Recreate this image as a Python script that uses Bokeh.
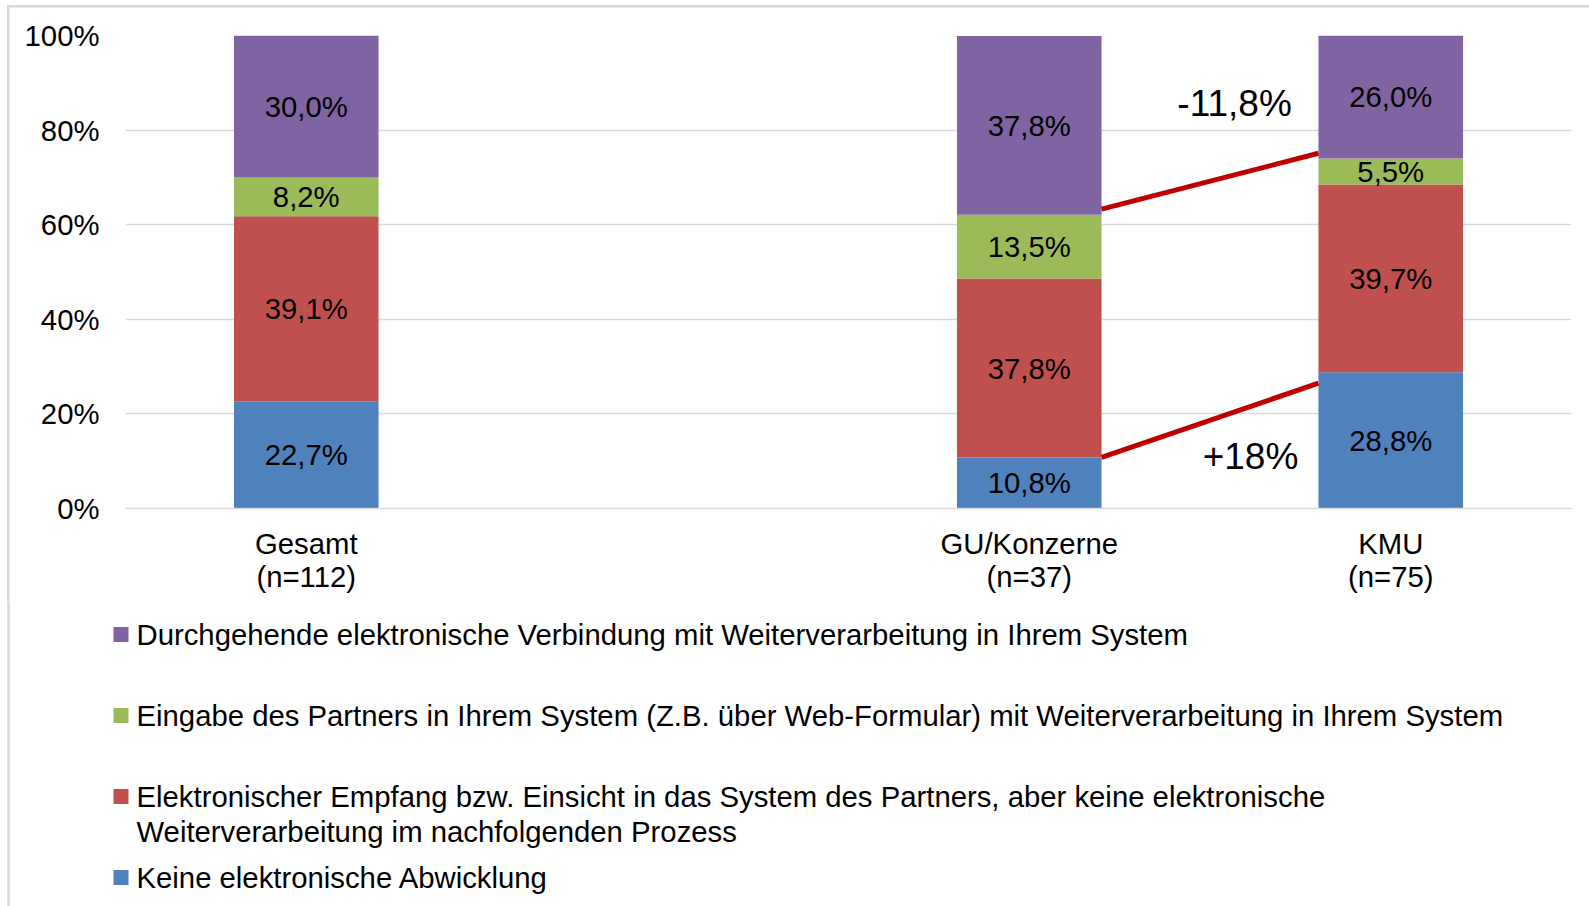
from bokeh.plotting import figure
from bokeh.models import Range1d, FixedTicker, ColumnDataSource
from bokeh.embed import file_html
from bokeh.resources import INLINE
from bokeh.core.properties import value

# ---------------- data ----------------
groups = ["Gesamt\n(n=112)", "GU/Konzerne\n(n=37)", "KMU\n(n=75)"]
group_pos = [0.5, 2.5, 3.5]          # slot 1.5 is an empty category gap

keine = [22.7, 10.8, 28.8]           # blue
empfang = [39.1, 37.8, 39.7]         # red
eingabe = [8.2, 13.5, 5.5]           # green
durchgehend = [30.0, 37.8, 26.0]     # purple

series_keys = ["keine", "empfang", "eingabe", "durchgehend"]
series_colors = ["#4F81BD", "#C0504D", "#9BBB59", "#8064A2"]

legend_labels = [
    "Durchgehende elektronische Verbindung mit Weiterverarbeitung in Ihrem System",
    "Eingabe des Partners in Ihrem System (Z.B. über Web-Formular) mit Weiterverarbeitung in Ihrem System",
    "Elektronischer Empfang bzw. Einsicht in das System des Partners, aber keine elektronische\nWeiterverarbeitung im nachfolgenden Prozess",
    "Keine elektronische Abwicklung",
]
legend_colors = ["#8064A2", "#9BBB59", "#C0504D", "#4F81BD"]

y_ticks = [0, 20, 40, 60, 80, 100]
y_tick_labels = ["0%", "20%", "40%", "60%", "80%", "100%"]

# trend annotation lines between GU/Konzerne and KMU
trend_x = [2.7, 3.3]
trend_upper = [63.3, 75.1]
trend_lower = [10.8, 26.5]
delta_texts = ["-11,8%", "+18%"]
delta_x = [3.068, 3.112]
delta_y = [85.6, 10.9]

FONT = "Liberation Sans"
FS = "29.3px"
GRID = "#d9d9d9"

# ---------------- chart figure ----------------
W = 1589
H_TOTAL = 906
H1 = 602
BL, BR, BT = 125, 18, 35
BB = H1 - 508

p = figure(width=W, height=H1, output_backend="svg", toolbar_location=None,
           x_range=Range1d(0, 4), y_range=Range1d(0, 100),
           min_border_left=BL, min_border_right=BR, min_border_top=BT, min_border_bottom=BB)
p.outline_line_color = None
p.background_fill_color = "white"
p.border_fill_alpha = 0
p.styles = {
    "background": ("linear-gradient(#d9d9d9,#d9d9d9) 7px 5px / 2.5px 100% no-repeat, "
                   "linear-gradient(#d9d9d9,#d9d9d9) 7px 5px / 100% 2.5px no-repeat, white"),
}

src = ColumnDataSource(dict(x=group_pos, keine=keine, empfang=empfang,
                            eingabe=eingabe, durchgehend=durchgehend))
p.vbar_stack(series_keys, x="x", width=0.4, source=src,
             fill_color=series_colors, line_color=None)

# value labels
lx, ly, lt = [], [], []
for i, xp in enumerate(group_pos):
    base = 0.0
    for arr in (keine, empfang, eingabe, durchgehend):
        v = arr[i]
        lx.append(xp)
        ly.append(base + v / 2)
        lt.append(f"{v:.1f}".replace(".", ",") + "%")
        base += v
p.text(x=lx, y=ly, text=lt, text_align="center", text_baseline="middle",
       text_font=value(FONT), text_font_size=FS, text_color="black")

# trend lines
p.line(trend_x, trend_upper, line_color="#C00000", line_width=5)
p.line(trend_x, trend_lower, line_color="#C00000", line_width=5)
p.text(x=delta_x, y=delta_y, text=delta_texts, text_align="center", text_baseline="middle",
       text_font=value(FONT), text_font_size="37px", text_color="black")

# axes
p.xaxis.ticker = FixedTicker(ticks=group_pos)
p.xaxis.major_label_overrides = {pos: g for pos, g in zip(group_pos, groups)}
p.xaxis.axis_line_color = GRID
p.xaxis.axis_line_width = 1.5
p.xaxis.major_tick_line_color = None
p.xaxis.minor_tick_line_color = None
p.xaxis.major_tick_out = 0
p.xaxis.major_label_standoff = 18
p.xaxis.major_label_text_font = FONT
p.xaxis.major_label_text_font_size = FS
p.xaxis.major_label_text_line_height = 1.0
p.xaxis.major_label_text_color = "black"

p.yaxis.ticker = FixedTicker(ticks=y_ticks)
p.yaxis.major_label_overrides = {t: l for t, l in zip(y_ticks, y_tick_labels)}
p.yaxis.axis_line_color = None
p.yaxis.major_tick_line_color = None
p.yaxis.minor_tick_line_color = None
p.yaxis.major_tick_out = 0
p.yaxis.major_label_standoff = 26
p.yaxis.major_label_text_font = FONT
p.yaxis.major_label_text_font_size = FS
p.yaxis.major_label_text_color = "black"

p.xgrid.grid_line_color = None
p.ygrid.grid_line_color = GRID
p.ygrid.grid_line_width = 1.5

# ---------------- legend figure (coordinates = page pixels) ----------------
H2 = H_TOTAL - H1
q = figure(width=W, height=H2, output_backend="svg", toolbar_location=None,
           x_range=Range1d(0, W), y_range=Range1d(H_TOTAL, H1),
           min_border=0, x_axis_location=None, y_axis_location=None)
q.outline_line_color = None
q.grid.visible = False
q.background_fill_color = "white"
q.border_fill_color = "white"

# left border continuation
q.segment(x0=[8], y0=[H1 - 2], x1=[8], y1=[H_TOTAL + 2], line_color=GRID, line_width=2.5)

row_y0, row_step, line_step = 634, 81, 35
sq_cx, sq_size, text_left = 120.5, 15, 136
sq_y, tx, ty, tt = [], [], [], []
for i, lab in enumerate(legend_labels):
    cy = row_y0 + i * row_step
    sq_y.append(cy)
    for j, line in enumerate(lab.split("\n")):
        tx.append(text_left)
        ty.append(cy + j * line_step)
        tt.append(line)
q.rect(x=[sq_cx] * len(sq_y), y=sq_y, width=sq_size, height=sq_size,
       fill_color=legend_colors, line_color=None)
q.text(x=tx, y=ty, text=tt, text_align="left", text_baseline="middle",
       text_font=value(FONT), text_font_size=FS, text_color="black")

open("out.html", "w").write(file_html([p, q], INLINE))
